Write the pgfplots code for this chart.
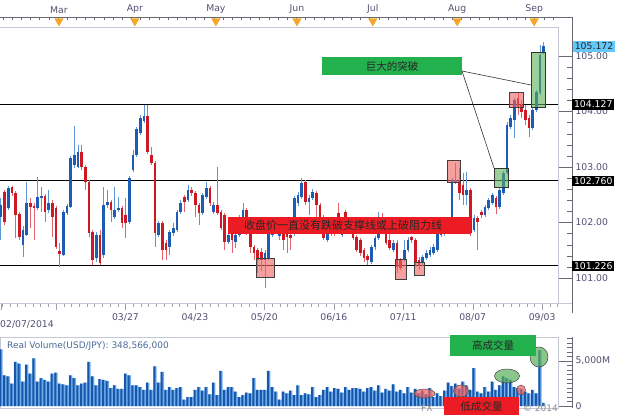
\documentclass[border=0pt]{standalone}
\usepackage{pgfplots}
\pgfplotsset{compat=1.18}
\usepackage{pgfplotstable}
\usepackage{fontspec}
\setmainfont{DejaVu Sans}
\newfontfamily\cjk{Noto Sans CJK SC}
\definecolor{cblue}{RGB}{28,92,178}
\definecolor{cbluew}{RGB}{95,150,215}
\definecolor{cred}{RGB}{205,25,35}
\definecolor{credw}{RGB}{228,100,110}
\definecolor{txt}{RGB}{80,80,115}
\definecolor{framegray}{RGB}{195,200,212}
\definecolor{axgray}{RGB}{105,105,115}
\definecolor{orangetri}{RGB}{245,165,40}
\definecolor{vlight}{RGB}{110,175,235}
\definecolor{vdark}{RGB}{25,85,170}
\definecolor{bandred}{RGB}{237,28,36}
\definecolor{boxgreen}{RGB}{34,177,76}
\definecolor{lblblue}{RGB}{100,200,250}
\definecolor{boxred}{RGB}{240,95,95}
\definecolor{boxgr}{RGB}{90,175,90}
\definecolor{volblue}{RGB}{75,105,150}

\pgfplotstableread{
i o h l c
0 102.10 102.44 101.69 102.32
2 102.26 102.66 102.23 102.62
6 101.60 101.94 101.38 101.87
7 101.78 102.73 101.76 102.35
10 102.26 102.82 102.23 102.46
11 102.44 102.64 102.19 102.48
13 102.23 102.59 102.17 102.35
17 101.42 102.23 101.40 102.19
18 102.17 102.33 102.14 102.30
19 102.28 103.20 102.26 103.16
20 103.04 103.74 102.98 103.22
21 103.00 103.40 102.98 103.27
26 101.36 101.83 101.29 101.78
28 101.42 102.64 101.36 102.32
29 102.32 102.59 102.26 102.37
31 102.10 102.64 102.06 102.23
32 102.23 102.46 102.19 102.26
35 102.01 102.84 101.97 102.80
36 102.95 103.31 102.91 103.22
37 103.22 103.72 103.18 103.69
38 103.61 103.94 103.58 103.88
39 103.83 104.12 103.79 103.92
43 101.78 102.03 101.74 101.99
46 101.56 101.87 101.42 101.83
47 101.81 101.99 101.76 101.90
48 101.87 102.23 101.83 102.19
49 102.19 102.41 102.15 102.35
51 102.41 102.68 102.37 102.59
55 102.17 102.53 102.14 102.50
56 102.46 102.73 102.42 102.62
58 102.19 102.37 102.15 102.32
62 101.65 101.87 101.61 101.78
64 101.65 101.83 101.54 101.78
65 101.78 102.14 101.74 102.10
66 102.10 102.35 102.06 102.23
72 101.33 101.51 100.82 101.45
73 101.36 101.85 101.32 101.81
74 101.78 101.96 101.74 101.90
75 101.83 102.08 101.79 102.01
76 101.76 102.01 101.69 101.90
80 101.87 102.48 101.76 102.44
81 102.35 102.55 102.30 102.50
82 102.46 102.80 102.42 102.71
84 102.37 102.50 102.14 102.44
85 102.44 102.60 102.41 102.55
89 101.69 101.90 101.65 101.83
90 101.79 101.97 101.76 101.87
93 101.78 101.94 101.74 101.87
95 101.83 101.97 101.79 101.90
101 101.29 101.60 101.25 101.56
102 101.56 101.76 101.51 101.72
103 101.72 102.19 101.69 101.87
107 101.51 101.69 101.47 101.63
110 101.33 101.69 101.29 101.51
111 101.51 101.74 101.47 101.69
115 101.27 101.42 101.22 101.38
116 101.36 101.51 101.32 101.45
117 101.42 101.56 101.38 101.51
118 101.45 101.61 101.42 101.56
119 101.51 101.83 101.47 101.81
120 101.78 101.87 101.74 101.81
121 101.79 101.87 101.76 101.83
122 101.83 101.97 101.79 101.94
123 102.01 102.80 101.97 102.77
124 102.73 103.07 102.69 102.77
127 102.50 102.91 102.32 102.59
129 101.87 102.14 101.83 102.08
132 102.14 102.32 102.10 102.28
133 102.26 102.44 102.23 102.41
134 102.35 102.53 102.32 102.50
136 102.28 102.62 102.24 102.59
137 102.53 102.93 102.50 102.89
138 102.89 103.81 102.86 103.76
139 103.72 103.94 103.69 103.88
140 103.85 104.24 103.52 104.21
145 103.70 104.06 103.67 104.03
146 104.03 104.39 103.99 104.35
147 104.33 105.20 104.30 105.02
148 105.07 105.25 105.04 105.17
}\upc

\pgfplotstableread{
i o h l c
1 102.55 102.59 101.96 102.01
3 102.64 102.66 102.48 102.53
4 102.53 102.57 101.72 102.14
5 102.15 102.19 101.69 101.74
8 102.35 102.44 101.90 102.28
9 102.30 102.35 101.69 102.26
12 102.48 102.51 102.01 102.19
14 102.35 102.41 101.74 102.10
15 102.26 102.30 101.52 101.56
16 101.49 101.63 101.20 101.43
22 103.27 103.40 102.95 103.00
23 103.00 103.04 102.59 102.73
24 102.73 102.77 101.74 101.81
25 101.83 101.87 101.23 101.33
27 101.78 101.87 101.23 101.27
30 102.37 102.41 102.01 102.23
33 102.26 102.30 101.90 101.99
34 102.14 102.44 101.72 101.99
40 103.92 104.12 103.24 103.27
41 103.22 103.36 103.04 103.07
42 103.07 103.11 101.56 101.81
44 101.99 102.03 101.32 101.51
45 101.63 101.69 101.32 101.51
50 102.46 102.50 102.19 102.37
52 102.59 102.64 102.48 102.53
53 102.53 102.57 102.10 102.32
54 102.32 102.35 101.96 102.17
57 102.62 102.66 102.30 102.35
59 102.32 103.00 102.14 102.17
60 102.19 102.23 101.87 101.90
61 102.14 102.17 101.51 101.65
63 101.81 101.85 101.45 101.69
67 102.23 102.26 101.78 101.81
68 101.81 101.85 101.45 101.56
69 101.56 101.60 101.32 101.45
70 101.51 101.54 101.09 101.33
71 101.47 101.54 101.13 101.33
77 101.87 101.94 101.51 101.69
78 101.81 101.90 101.45 101.74
79 101.78 101.87 101.51 101.72
83 102.73 102.77 102.32 102.37
86 102.53 102.57 102.10 102.32
87 102.32 102.35 101.96 102.01
88 102.05 102.14 101.69 101.72
91 101.94 102.05 101.76 101.81
92 102.17 102.35 101.81 101.90
94 102.19 102.23 101.79 101.83
96 101.83 101.88 101.69 101.72
97 101.74 101.78 101.47 101.51
98 101.69 101.72 101.40 101.45
99 101.51 101.54 101.29 101.36
100 101.40 101.43 101.23 101.33
104 102.01 102.17 101.79 101.83
105 101.83 102.01 101.60 101.63
106 101.69 101.81 101.51 101.54
108 101.63 101.69 101.09 101.20
109 101.33 101.36 101.14 101.18
112 101.74 101.76 101.63 101.69
113 101.69 101.72 101.23 101.27
114 101.32 101.38 101.14 101.23
125 102.77 102.98 102.41 102.53
126 102.68 102.89 102.32 102.50
128 102.59 102.62 101.76 101.81
130 102.08 102.12 101.51 102.01
131 102.19 102.23 102.08 102.14
135 102.44 102.48 102.15 102.28
141 104.24 104.33 103.94 104.06
142 104.12 104.21 103.88 103.99
143 104.03 104.12 103.76 103.85
144 103.88 103.94 103.54 103.70
}\downc

\pgfplotstableread{
i v
0 6300
1 3400
2 3300
3 2500
4 4900
5 4700
6 2700
7 4600
8 3600
9 5300
10 2700
11 3100
12 2900
13 2700
14 3600
15 3700
16 2500
17 2400
18 2300
19 3400
20 3100
21 2300
22 2500
23 2600
24 4900
25 3300
26 2300
27 3000
28 2900
29 2800
30 2000
31 2300
32 1900
33 1900
34 3600
35 3400
36 2300
37 2300
38 2100
39 1800
40 2600
41 1800
42 4400
43 2600
44 3800
45 1800
46 2100
47 1800
48 2000
49 2100
50 700
51 1000
52 1000
53 1800
54 2100
55 1700
56 2100
57 1300
58 2600
59 1200
60 3900
61 1800
62 2100
63 2100
64 1600
65 1000
66 1200
67 1500
68 1400
69 3100
70 1800
71 1800
72 1800
73 3900
74 2100
75 1600
76 700
77 1600
78 1400
79 1700
80 1200
81 2300
82 1200
83 1400
84 1300
85 2100
86 1000
87 1200
88 1800
89 2100
90 1600
91 2000
92 1900
93 1500
94 2100
95 1800
96 2000
97 2000
98 1900
99 1600
100 2000
101 2100
102 1700
103 2300
104 1500
105 1900
106 1700
107 2400
108 1600
109 1800
110 1400
111 2100
112 1500
113 1900
114 1400
115 1700
116 1300
117 2000
118 1000
119 1400
120 1100
121 1700
122 2600
123 2200
124 2500
125 1900
126 2700
127 2300
128 1800
129 4200
130 1600
131 1400
132 2100
133 1600
134 2700
135 1800
136 2300
137 3300
138 3100
139 2900
140 2100
141 2000
142 1900
143 1600
144 1400
145 1800
146 1400
147 6200
148 350
}\vol

\pgfplotsset{every axis/.append style={scale only axis,
  font=\fontsize{9.3}{11}\selectfont,
  /pgf/number format/assume math mode=true}}

\begin{document}
\begin{tikzpicture}
\useasboundingbox (0pt,-415pt) rectangle (623pt,0pt);

% ---------- top month strip ----------
\begin{axis}[at={(0pt,-17pt)}, anchor=north west, width=558pt, height=10pt,
  xmin=-0.2727, xmax=151.9, ymin=0, ymax=1,
  axis x line*=top, axis y line=none, ytick=\empty,
  x axis line style={draw=axgray},
  xtick={15.8,36.5,58.6,80.7,101.4,124.4,145.4},
  xticklabels={Mar,Apr,May,Jun,Jul,Aug,Sep},
  major tick length=0pt, minor tick length=3pt,
  minor xtick={0.5,3,...,150.5},
  tick align=inside, tick style={draw=axgray},
  xticklabel style={text=txt}, clip=false]
\addplot[only marks, mark=triangle*, mark size=5pt,
  mark options={rotate=180, fill=orangetri, draw=orangetri}]
  coordinates {(15.8,0.6) (36.5,0.6) (58.6,0.6) (80.7,0.6) (101.4,0.6) (124.4,0.6) (145.4,0.6)};
\end{axis}

% ---------- price panel ----------
\begin{axis}[at={(0pt,-17pt)}, anchor=north west, width=558pt, height=286pt,
  xmin=-0.2727, xmax=151.9, ymin=100.55, ymax=105.70,
  axis x line*=bottom, axis y line=none, ytick=\empty,
  x axis line style={draw=framegray},
  xtick={0,15,33.94,52.88,71.82,90.76,109.7,128.64,147.58},
  xticklabels={,,03/27,04/23,05/20,06/16,07/11,08/07,09/03},
  minor xtick={0.27,2.374,...,151},
  tick align=outside, major tick length=7pt, minor tick length=3.5pt,
  tick style={draw=framegray!80!black},
  xticklabel style={text=txt}, clip=true]
\addplot[black, line width=0.8pt] coordinates {(-1,104.127) (153,104.127)};
\addplot[black, line width=0.8pt] coordinates {(-1,102.760) (153,102.760)};
\addplot[black, line width=0.8pt] coordinates {(-1,101.226) (153,101.226)};
\addplot[draw=none, forget plot, error bars/.cd, y dir=minus, y explicit, error mark=none,
  error bar style={draw=cbluew, line width=1pt}]
  table[x=i, y=h, y error expr=\thisrow{h}-\thisrow{l}] {\upc};
\addplot[draw=none, forget plot, error bars/.cd, y dir=minus, y explicit, error mark=none,
  error bar style={draw=credw, line width=1pt}]
  table[x=i, y=h, y error expr=\thisrow{h}-\thisrow{l}] {\downc};
\addplot[draw=none, forget plot, error bars/.cd, y dir=minus, y explicit, error mark=none,
  error bar style={draw=cblue, line width=2.8pt}]
  table[x=i, y=c, y error expr=\thisrow{c}-\thisrow{o}] {\upc};
\addplot[draw=none, forget plot, error bars/.cd, y dir=minus, y explicit, error mark=none,
  error bar style={draw=cred, line width=2.8pt}]
  table[x=i, y=o, y error expr=\thisrow{o}-\thisrow{c}] {\downc};
\end{axis}

% ---------- price right axis ----------
\begin{axis}[at={(558pt,-17pt)}, anchor=north west, width=14pt, height=286pt,
  xmin=0, xmax=1, ymin=100.55, ymax=105.70,
  axis y line*=right, axis x line=none, xtick=\empty,
  y axis line style={draw=axgray},
  ytick={101,102,103,104,105}, minor y tick num=4,
  tick align=inside, major tick length=13pt, minor tick length=5pt,
  tick style={draw=axgray},
  scaled y ticks=false,
  yticklabel style={text=txt, /pgf/number format/fixed, /pgf/number format/fixed zerofill, /pgf/number format/precision=2}]
\end{axis}

% ---------- volume panel ----------
\begin{axis}[at={(0pt,-337pt)}, anchor=north west, width=558pt, height=71pt,
  xmin=-0.2727, xmax=151.9, ymin=-222, ymax=7667,
  axis line style={draw=framegray}, xtick=\empty, ytick=\empty, clip=true]
\addplot[ybar, bar width=3.4pt, bar shift=0pt, fill=vlight, draw=none] table[x=i, y=v] {\vol};
\addplot[ybar, bar width=2.0pt, bar shift=-0.6pt, fill=vdark, draw=none] table[x=i, y=v] {\vol};
\end{axis}

% ---------- volume right axis ----------
\begin{axis}[at={(558pt,-337pt)}, anchor=north west, width=14pt, height=71pt,
  xmin=0, xmax=1, ymin=-222, ymax=7667,
  axis y line*=right, axis x line=none, xtick=\empty,
  y axis line style={draw=axgray},
  ytick={0,5000}, yticklabels={0,{5,000M}},
  minor ytick={500,1000,...,7500},
  tick align=inside, major tick length=13pt, minor tick length=5pt,
  tick style={draw=axgray}, yticklabel style={text=txt}]
\end{axis}

\begin{scope}[x=1pt, y=-1pt]
\draw[axgray] (558,17) -- (572,17);
\draw[axgray] (572,303) -- (572,313);
\draw[framegray] (558,303) -- (572,303);
\draw[framegray] (0,27) -- (558,27) -- (558,303);
\node[anchor=west, text=txt, font=\fontsize{9.3}{11}\selectfont, inner sep=0pt] at (0,324) {02/07/2014};
\node[anchor=west, text=volblue, font=\fontsize{9}{10}\selectfont, inner sep=0pt] at (7,345.5) {Real Volume(USD/JPY): 348,566,000};
\node[anchor=west, fill=lblblue, text=black!85, inner sep=1.6pt, font=\fontsize{9.3}{11}\selectfont] at (573,46.5) {105.172};
\node[anchor=west, fill=black, text=white, inner sep=1.8pt, font=\fontsize{9.3}{11}\selectfont] at (572,104.5) {104.127};
\node[anchor=west, fill=black, text=white, inner sep=1.8pt, font=\fontsize{9.3}{11}\selectfont] at (572,181) {102.760};
\node[anchor=west, fill=black, text=white, inner sep=1.8pt, font=\fontsize{9.3}{11}\selectfont] at (572,266) {101.226};
\filldraw[fill=boxred, fill opacity=0.6, draw=black!75, line width=0.6pt] (447,160) rectangle (460,182);
\filldraw[fill=boxred, fill opacity=0.6, draw=black!75, line width=0.6pt] (256,258) rectangle (274,277);
\filldraw[fill=boxred, fill opacity=0.6, draw=black!75, line width=0.6pt] (395,259) rectangle (406,279);
\filldraw[fill=boxred, fill opacity=0.6, draw=black!75, line width=0.6pt] (414,262) rectangle (424,275);
\filldraw[fill=boxred, fill opacity=0.6, draw=black!75, line width=0.6pt] (509,92) rectangle (523,107);
\filldraw[fill=boxgr, fill opacity=0.6, draw=black!80, line width=0.6pt] (494,168) rectangle (508,187);
\filldraw[fill=boxgr, fill opacity=0.6, draw=black!80, line width=0.6pt] (531,52) rectangle (545,107);
\fill[bandred] (228,217) rectangle (471,234);
\node[font=\cjk\fontsize{11}{12}\selectfont, text=black!85] at (343,225.5) {收盘价一直没有跌破支撑线或上破阻力线};
\fill[boxgreen] (322,57) rectangle (462,75);
\node[font=\cjk\fontsize{10.5}{12}\selectfont, text=black!85] at (392,66) {巨大的突破};
\draw[black!80, line width=0.6pt] (462,71) -- (531,85);
\draw[black!80, line width=0.6pt] (462,71) -- (494,168);
\node[anchor=west, text=black!45, font=\fontsize{9}{10}\selectfont, inner sep=0pt] at (421,408.5) {FX};
\node[anchor=east, text=black!45, font=\fontsize{9}{10}\selectfont, inner sep=0pt] at (558,408.5) {© 2014};
\filldraw[fill=boxred, fill opacity=0.7, draw=black!70, line width=0.5pt] (424.5,393.5) ellipse [x radius=10.5pt, y radius=4.5pt];
\filldraw[fill=boxred, fill opacity=0.7, draw=black!70, line width=0.5pt] (461,391) ellipse [x radius=7.5pt, y radius=6pt];
\filldraw[fill=boxred, fill opacity=0.7, draw=black!70, line width=0.5pt] (521,390) ellipse [x radius=4.5pt, y radius=5pt];
\filldraw[fill=boxgr, fill opacity=0.7, draw=black!75, line width=0.5pt] (507,376) ellipse [x radius=12.5pt, y radius=7pt];
\filldraw[fill=boxgr, fill opacity=0.7, draw=black!75, line width=0.5pt] (539,357) ellipse [x radius=9pt, y radius=10pt];
\fill[boxgreen] (450,335) rectangle (536,356);
\node[font=\cjk\fontsize{10.5}{12}\selectfont, text=black!85] at (493,345.5) {高成交量};
\fill[bandred] (444,397) rectangle (519,415);
\node[font=\cjk\fontsize{10.5}{12}\selectfont, text=black!85] at (481.5,406.5) {低成交量};
\end{scope}
\end{tikzpicture}
\end{document}
